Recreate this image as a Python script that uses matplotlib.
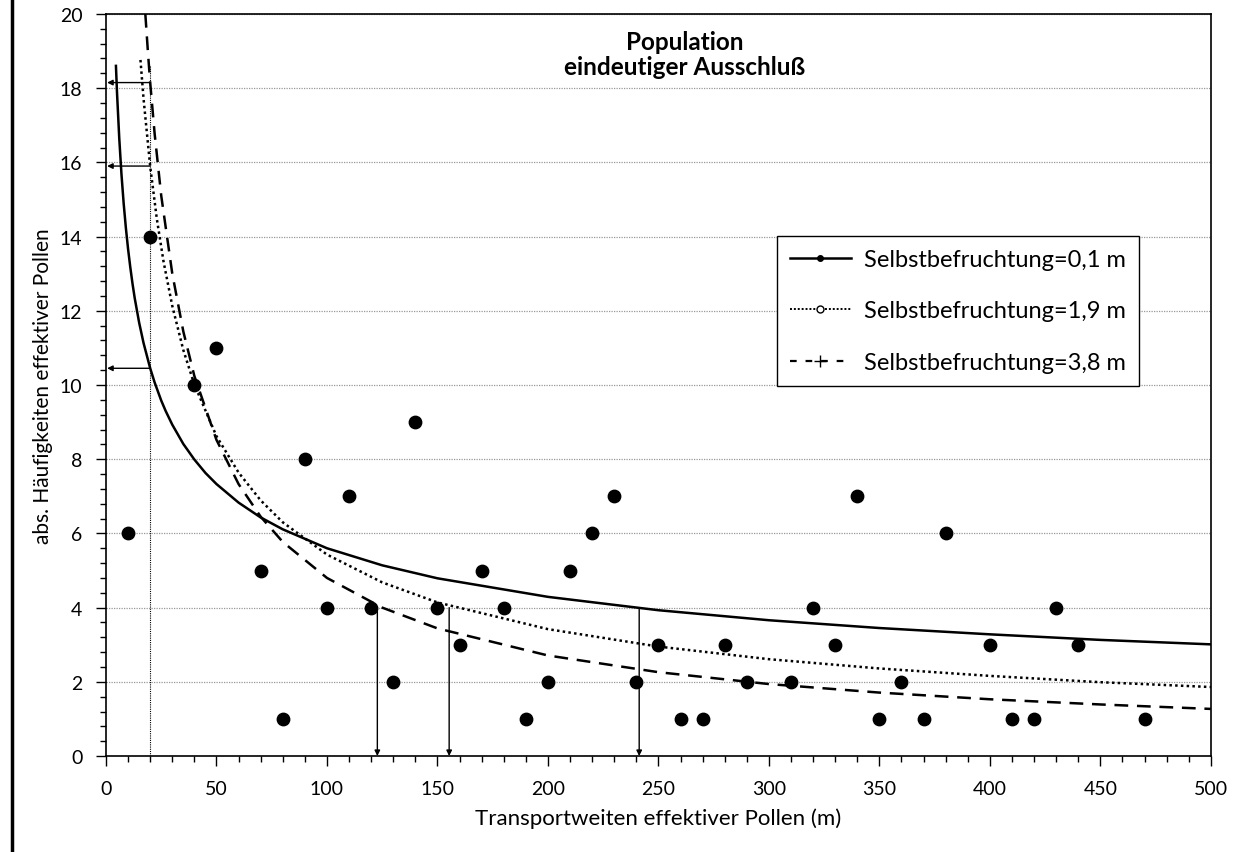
import numpy as np
import matplotlib.pyplot as plt
from matplotlib.lines import Line2D
from matplotlib.ticker import MultipleLocator

plt.rcParams['font.family'] = ['Lato', 'DejaVu Sans']

# observed transport distances (m) and absolute frequencies
dist = [10, 20, 40, 50, 70, 80, 90, 100, 110, 120, 130, 140, 150, 160, 170,
        180, 190, 200, 210, 220, 230, 240, 250, 260, 270, 280, 290, 310, 320,
        330, 340, 350, 360, 370, 380, 400, 410, 420, 430, 440, 470]
freq = [6, 14, 10, 11, 5, 1, 8, 4, 7, 4, 2, 9, 4, 3, 5,
        4, 1, 2, 5, 6, 7, 2, 3, 1, 1, 3, 2, 2, 4,
        3, 7, 1, 2, 1, 6, 3, 1, 1, 4, 3, 1]

# fitted curves
x_s01 = [4.5, 5, 6, 7, 8, 9, 10, 11, 12, 13, 15, 17, 20, 22, 25, 27, 30, 35,
         40, 45, 50, 60, 70, 80, 100, 125, 150, 200, 250, 300, 350, 400, 450, 500]
y_s01 = [18.60, 17.86, 16.65, 15.68, 14.89, 14.23, 13.66, 13.17, 12.73, 12.34,
         11.68, 11.13, 10.45, 10.07, 9.58, 9.30, 8.93, 8.41, 7.99, 7.63, 7.33,
         6.83, 6.43, 6.11, 5.60, 5.14, 4.79, 4.29, 3.93, 3.66, 3.45, 3.28,
         3.13, 3.01]

x_s19 = [15.6, 17, 20, 23, 26, 30, 35, 40, 50, 60, 70, 80, 100, 125, 150,
         200, 250, 300, 350, 400, 450, 500]
y_s19 = [18.76, 17.71, 15.89, 14.48, 13.34, 12.13, 10.94, 10.01, 8.62, 7.64,
         6.89, 6.30, 5.43, 4.68, 4.14, 3.42, 2.95, 2.61, 2.36, 2.16, 1.99, 1.86]

x_s38 = [17.8, 19, 20, 22, 25, 30, 35, 40, 50, 60, 70, 80, 100, 125, 150,
         200, 250, 300, 350, 400, 450, 500]
y_s38 = [20.00, 18.95, 18.15, 16.78, 15.10, 13.00, 11.44, 10.24, 8.52, 7.33,
         6.45, 5.77, 4.80, 4.00, 3.44, 2.71, 2.26, 1.94, 1.71, 1.53, 1.39, 1.27]

labels = ["Selbstbefruchtung=0,1 m", "Selbstbefruchtung=1,9 m",
          "Selbstbefruchtung=3,8 m"]

# values at 20 m marked with arrows to the y axis
h_arrows = [18.15, 15.9, 10.45]
# distances where curves reach 4 pollen
v_arrows = [122.8, 155.3, 241.3]

fig = plt.figure(figsize=(12.47, 8.53), dpi=100)
ax = fig.add_axes([0.085, 0.1125, 0.886, 0.870])

ax.scatter(dist, freq, s=80, color='black', zorder=5)
ax.plot(x_s01, y_s01, color='black', lw=1.8, ls='-')
ax.plot(x_s19, y_s19, color='black', lw=1.8, ls=(0, (1, 1.3)))
ax.plot(x_s38, y_s38, color='black', lw=1.8, ls=(0, (5.5, 3.5)))

ax.plot([20, 20], [0, 18.6], color='black', lw=0.8, ls=(0, (1, 1)))
for y in h_arrows:
    ax.annotate('', xy=(0.5, y), xytext=(20, y),
                arrowprops=dict(arrowstyle='-|>', lw=1, color='black',
                                mutation_scale=8, shrinkA=0, shrinkB=0))
for x in v_arrows:
    ax.annotate('', xy=(x, 0), xytext=(x, 4),
                arrowprops=dict(arrowstyle='-|>', lw=1, color='black',
                                mutation_scale=8, shrinkA=0, shrinkB=0))

ax.set_xlim(0, 500)
ax.set_ylim(0, 20)
ax.xaxis.set_major_locator(MultipleLocator(50))
ax.xaxis.set_minor_locator(MultipleLocator(10))
ax.yaxis.set_major_locator(MultipleLocator(2))
ax.yaxis.set_minor_locator(MultipleLocator(0.4))
ax.tick_params(which='major', direction='out', length=7, width=1,
               labelsize=14, pad=10)
ax.tick_params(which='minor', direction='out', length=4, width=1)
ax.grid(axis='y', which='major', color='#999999', lw=0.9, ls=(0, (1, 1)))
ax.set_axisbelow(True)
for sp in ax.spines.values():
    sp.set_linewidth(1.2)

ax.set_xlabel("Transportweiten effektiver Pollen (m)", fontsize=16, labelpad=8)
ax.set_ylabel("abs. Häufigkeiten effektiver Pollen", fontsize=15, labelpad=5)

ax.text(0.524, 0.978, "Population\neindeutiger Ausschluß", transform=ax.transAxes,
        ha='center', va='top', fontsize=17.5, fontweight='bold', linespacing=1.1)

handles = [
    Line2D([], [], color='black', lw=1.8, ls='-', marker='o', markersize=4),
    Line2D([], [], color='black', lw=1.4, ls=(0, (1, 1)), marker='o',
           markersize=5, markerfacecolor='white'),
    Line2D([], [], color='black', lw=1.6, ls=(0, (3, 4)), marker='+',
           markersize=8),
]
leg = ax.legend(handles, labels, loc='upper left', bbox_to_anchor=(0.607, 0.701),
                borderaxespad=0, fontsize=17, frameon=True, fancybox=False,
                framealpha=1, edgecolor='black', labelspacing=1.3,
                handlelength=2.6, handletextpad=0.55, borderpad=0.55)
leg.get_frame().set_linewidth(1)

fig.add_artist(Line2D([0.0095, 0.0095], [0, 1], transform=fig.transFigure,
                      color='black', lw=2.5))

fig.savefig("out.png", dpi=100)
